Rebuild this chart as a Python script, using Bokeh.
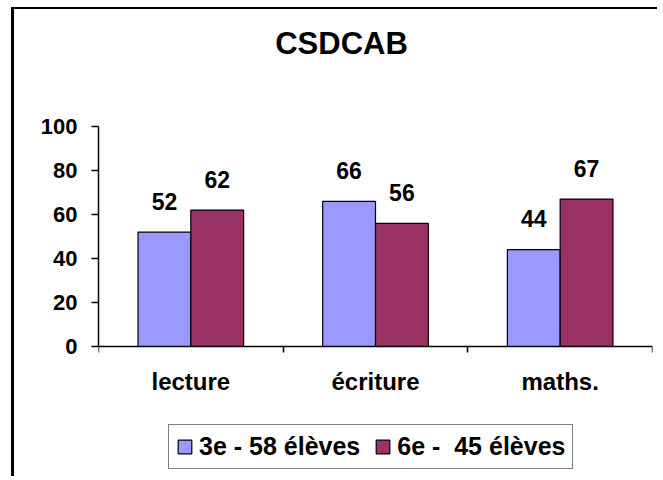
from bokeh.plotting import figure
from bokeh.models import ColumnDataSource, FixedTicker, Legend, LegendItem, Label
from bokeh.transform import dodge
from bokeh.core.properties import value
from bokeh.embed import file_html
from bokeh.resources import INLINE

title = "CSDCAB"
categories = ["lecture", "écriture", "maths."]
series_names = ["3e - 58 élèves", "6e -  45 élèves"]
values_3e = [52, 66, 44]
values_6e = [62, 56, 67]
y_ticks = [0, 20, 40, 60, 80, 100]
colors = ["#9999FF", "#993366"]

FONT = "Liberation Sans"
BAR_W = 0.286

# layout in page pixels
ORIGIN_X, ORIGIN_Y = 14, 9          # figure content origin (after margin + border)
W, H = 646, 469
MB_L, MB_R, MB_T, MB_B = 84, 8, 4, 4
FRAME_L = ORIGIN_X + MB_L
FRAME_R = ORIGIN_X + W - MB_R
FRAME_T = ORIGIN_Y + MB_T
FRAME_B = ORIGIN_Y + H - MB_B
Y0_PX, Y100_PX = 346, 126           # where 0 and 100 sit
scale = (Y0_PX - Y100_PX) / 100.0
y_start = -(FRAME_B - Y0_PX) / scale
y_end = 100 + (Y100_PX - FRAME_T) / scale
ncat = len(categories)

centers = [i + 0.5 for i in range(ncat)]
bounds = list(range(ncat + 1))
src = ColumnDataSource(dict(
    x=centers, a=values_3e, b=values_6e,
    la=[str(v) for v in values_3e], lb=[str(v) for v in values_6e],
))

p = figure(width=W, height=H, x_range=(0, ncat), y_range=(y_start, y_end),
           output_backend="svg", toolbar_location=None,
           min_border_left=MB_L, min_border_right=MB_R,
           min_border_top=MB_T, min_border_bottom=MB_B,
           styles={"border-left": "3px solid black", "border-top": "2px solid black",
                   "margin-left": "11px", "margin-top": "7px"})
p.outline_line_color = None
p.grid.visible = False
p.background_fill_color = "white"
p.border_fill_color = "white"

r1 = p.vbar(x=dodge("x", -BAR_W / 2, range=p.x_range), top="a", width=BAR_W, bottom=0,
            source=src, fill_color=colors[0], line_color="black", line_width=1.2)
r2 = p.vbar(x=dodge("x", BAR_W / 2, range=p.x_range), top="b", width=BAR_W, bottom=0,
            source=src, fill_color=colors[1], line_color="black", line_width=1.2)

for xoff, col in ((-BAR_W / 2, "a"), (BAR_W / 2, "b")):
    p.text(x=dodge("x", xoff, range=p.x_range), y=col, text="l" + col, source=src,
           text_align="center", text_baseline="alphabetic", y_offset=-31,
           text_font=value(FONT), text_font_style="bold", text_font_size="23px",
           text_color="black")

# title as a label, centred over the chart area
title_cx, title_base = 341, 43
p.add_layout(Label(x=(title_cx - FRAME_L) / (FRAME_R - FRAME_L) * ncat,
                   y=(Y0_PX - title_base) / scale, text=title,
                   text_align="center", text_baseline="alphabetic",
                   text_font=FONT, text_font_size="31px", text_font_style="bold",
                   text_color="black"))

for ax in (p.xaxis[0], p.yaxis[0]):
    ax.axis_line_color = "black"
    ax.axis_line_width = 1.5
    ax.major_tick_line_color = "black"
    ax.major_tick_line_width = 1.5
    ax.major_label_text_color = "black"
    ax.major_label_text_font = FONT
    ax.major_label_text_font_style = "bold"

ya = p.yaxis[0]
ya.ticker = FixedTicker(ticks=y_ticks, minor_ticks=[])
ya.bounds = (0, 100)
ya.major_tick_out = 7
ya.major_tick_in = 0
ya.major_label_text_font_size = "22px"
ya.major_label_standoff = 14

xa = p.xaxis[0]
xa.fixed_location = 0
xa.ticker = FixedTicker(ticks=centers, minor_ticks=bounds)
xa.major_label_overrides = {c: cat for c, cat in zip(centers, categories)}
xa.major_tick_out = 0
xa.major_tick_in = 0
xa.minor_tick_out = 6
xa.minor_tick_in = 0
xa.minor_tick_line_color = "black"
xa.minor_tick_line_width = 1.5
xa.major_label_text_font_size = "24px"
xa.major_label_standoff = 15

legend = Legend(items=[LegendItem(label=series_names[0], renderers=[r1]),
                       LegendItem(label=series_names[1], renderers=[r2])],
                orientation="horizontal", location=(168 - FRAME_L, FRAME_B - 469),
                border_line_color="black", border_line_width=1.5,
                padding=7, spacing=14, label_standoff=6,
                glyph_width=17, glyph_height=17,
                label_text_color="black",
                label_text_font=FONT, label_text_font_size="25px",
                label_text_font_style="bold", margin=0)
p.add_layout(legend, "center")

open("out.html", "w").write(file_html(p, INLINE))
